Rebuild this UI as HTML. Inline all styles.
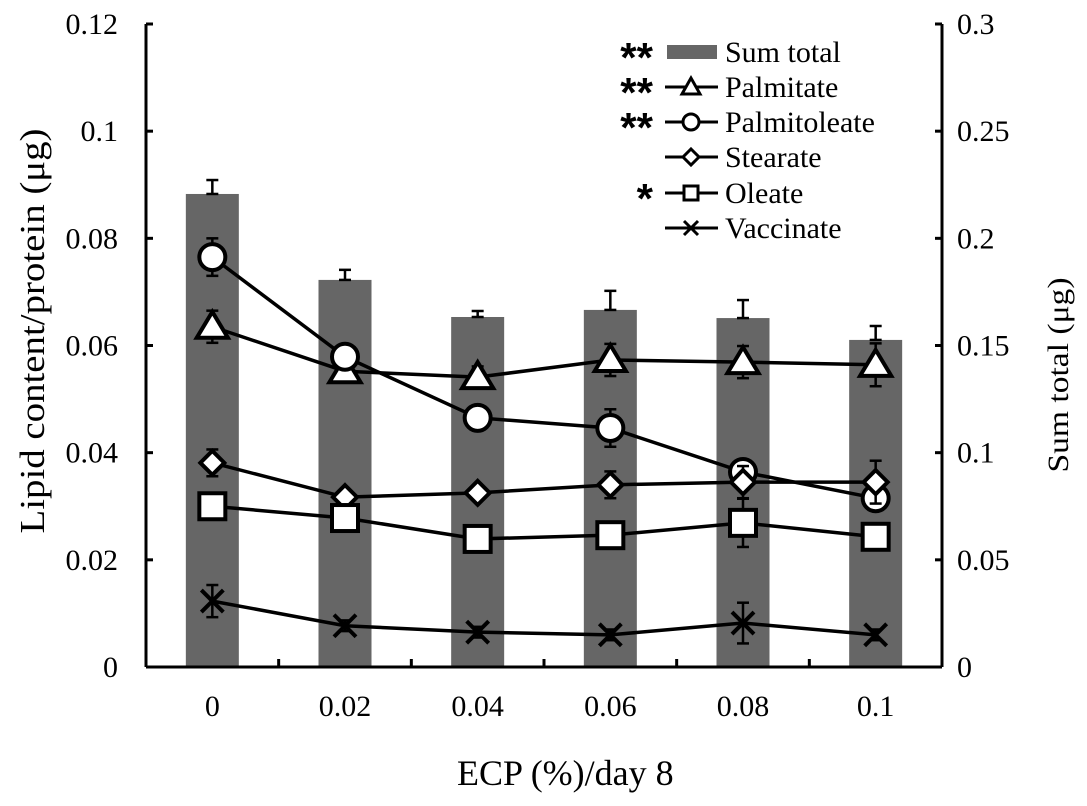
<!DOCTYPE html>
<html><head><meta charset="utf-8"><style>
body{margin:0;background:#fff;}
svg{display:block;font-family:"Liberation Serif",serif;}
</style></head><body>
<svg id="chart" width="1087" height="806" viewBox="0 0 1087 806">
<g id="bars"></g>
<g id="lines"></g>
<g id="axes"></g>
</svg>
<script>
const categories = ["0","0.02","0.04","0.06","0.08","0.1"];
const sumTotal = [0.2207,0.1806,0.1633,0.1666,0.1628,0.1526];
const sumTotalErr = [0.0065,0.0047,0.0028,0.0089,0.0084,0.0065];
const palmitate = [0.0635,0.0552,0.0541,0.0573,0.0569,0.0564];
const palmitateErr = [0.003,0.001,0.002,0.003,0.003,0.004];
const palmitoleate = [0.0765,0.0579,0.0465,0.0446,0.0364,0.0315];
const palmitoleateErr = [0.0035,0.001,0.001,0.0035,0.001,0.001];
const stearate = [0.0381,0.0317,0.0325,0.034,0.0345,0.0345];
const stearateErr = [0.0025,0.001,0.001,0.0025,0.003,0.004];
const oleate = [0.030,0.0278,0.0239,0.0246,0.0269,0.0243];
const oleateErr = [0.001,0.001,0.001,0.001,0.0045,0.001];
const vaccinate = [0.0123,0.0077,0.0065,0.006,0.0082,0.006];
const vaccinateErr = [0.003,0.001,0.001,0.001,0.0038,0.001];
const leftTicks = [0,0.02,0.04,0.06,0.08,0.1,0.12];
const leftTickLabels = ["0","0.02","0.04","0.06","0.08","0.1","0.12"];
const rightTicks = [0,0.05,0.1,0.15,0.2,0.25,0.3];
const rightTickLabels = ["0","0.05","0.1","0.15","0.2","0.25","0.3"];

const NS="http://www.w3.org/2000/svg";
const X0=146,X1=942,Y0=667,Y1=24;
const bw=(X1-X0)/categories.length;
const xPos=i=>X0+bw*(i+0.5);
const yL=v=>Y0-(v/0.12)*(Y0-Y1);
const yR=v=>Y0-(v/0.3)*(Y0-Y1);
function mk(tag,attrs,parent,txt){const e=document.createElementNS(NS,tag);for(const k in attrs)e.setAttribute(k,attrs[k]);if(txt!==undefined)e.textContent=txt;parent.appendChild(e);return e;}
const bars=document.getElementById('bars'),lines=document.getElementById('lines'),axes=document.getElementById('axes');

function errBar(g,x,yt,yb){
  mk('line',{x1:x,x2:x,y1:yt,y2:yb,stroke:'#000','stroke-width':2.5},g);
  mk('line',{x1:x-6,x2:x+6,y1:yt,y2:yt,stroke:'#000','stroke-width':2.5},g);
  mk('line',{x1:x-6,x2:x+6,y1:yb,y2:yb,stroke:'#000','stroke-width':2.5},g);
}
categories.forEach((c,i)=>{
  const r=mk('rect',{x:xPos(i)-26.5,y:yR(sumTotal[i]),width:53,height:Y0-yR(sumTotal[i]),fill:'#666'},bars);
  
  
  errBar(bars,xPos(i),yR(sumTotal[i]+sumTotalErr[i]),yR(sumTotal[i]));
});

function marker(g,type,x,y,s){
  const st={fill:'#fff',stroke:'#000','stroke-width':4};
  if(type==='tri') return mk('polygon',Object.assign({points:`${x},${y-s*1.15} ${x-s*1.2},${y+s*0.85} ${x+s*1.2},${y+s*0.85}`},st),g);
  if(type==='circ') return mk('circle',Object.assign({cx:x,cy:y,r:s},st),g);
  if(type==='dia') return mk('polygon',Object.assign({points:`${x},${y-s} ${x+s},${y} ${x},${y+s} ${x-s},${y}`},st),g);
  if(type==='sq') return mk('rect',Object.assign({x:x-s,y:y-s,width:2*s,height:2*s},st),g);
  if(type==='x'){const gg=mk('g',{},g);mk('line',{x1:x-s,y1:y-s,x2:x+s,y2:y+s,stroke:'#000','stroke-width':4},gg);mk('line',{x1:x-s,y1:y+s,x2:x+s,y2:y-s,stroke:'#000','stroke-width':4},gg);return gg;}
}
const series=[
 ['palmitate',palmitate,palmitateErr,'tri',13],
 ['palmitoleate',palmitoleate,palmitoleateErr,'circ',13],
 ['stearate',stearate,stearateErr,'dia',12],
 ['oleate',oleate,oleateErr,'sq',13],
 ['vaccinate',vaccinate,vaccinateErr,'x',11]];
series.forEach(([name,vals,errs,m,s])=>{
  const g=mk('g',{},lines);
  
  
  vals.forEach((v,i)=>errBar(g,xPos(i),yL(v+errs[i]),yL(v-errs[i])));
  mk('polyline',{points:vals.map((v,i)=>xPos(i)+','+yL(v)).join(' '),fill:'none',stroke:'#000','stroke-width':3.5},g);
  vals.forEach((v,i)=>{const p=marker(g,m,xPos(i),yL(v),s);
    
    });
});

mk('line',{x1:X0,x2:X0,y1:Y1,y2:Y0,stroke:'#000','stroke-width':3},axes);
mk('line',{x1:X1,x2:X1,y1:Y1,y2:Y0,stroke:'#000','stroke-width':3},axes);
mk('line',{x1:X0,x2:X1,y1:Y0,y2:Y0,stroke:'#000','stroke-width':3},axes);
leftTicks.forEach((t,i)=>{const y=yL(t);
  mk('line',{x1:X0,x2:X0+7,y1:y,y2:y,stroke:'#000','stroke-width':3},axes);
  const tx=mk('text',{x:118,y:y+10,'font-size':30,'text-anchor':'end'},axes,leftTickLabels[i]);
  
  });
rightTicks.forEach((t,i)=>{const y=yR(t);
  mk('line',{x1:X1-7,x2:X1,y1:y,y2:y,stroke:'#000','stroke-width':3},axes);
  const tx=mk('text',{x:957,y:y+10,'font-size':30},axes,rightTickLabels[i]);
  
  });
categories.forEach((c,i)=>{
  if(i>0) mk('line',{x1:X0+bw*i,x2:X0+bw*i,y1:Y0-8,y2:Y0,stroke:'#000','stroke-width':3},axes);
  const tx=mk('text',{x:xPos(i),y:716,'font-size':30,'text-anchor':'middle'},axes,c);
  
  });
</script>
<svg style="position:absolute;left:0;top:0" width="1087" height="806">
<g font-family="Liberation Serif, serif">
<text x="457" y="785" font-size="36">ECP (%)/day 8</text>
<text transform="translate(44,331) rotate(-90)" font-size="35" text-anchor="middle" textLength="405" lengthAdjust="spacingAndGlyphs">Lipid content/protein (μg)</text>
<text transform="translate(1068,375) rotate(-90)" font-size="30" text-anchor="middle" textLength="195" lengthAdjust="spacingAndGlyphs">Sum total (μg)</text>
<g font-size="30">
<g><text x="653" y="72" text-anchor="end" font-family="Liberation Sans, sans-serif" font-weight="bold" font-size="42">**</text><rect x="667" y="45" width="50" height="14" fill="#666"/><text x="725" y="62">Sum total</text></g>
<g><text x="653" y="107" text-anchor="end" font-family="Liberation Sans, sans-serif" font-weight="bold" font-size="42">**</text><line x1="665" x2="718" y1="87" y2="87" stroke="#000" stroke-width="3"/><polygon points="691,78 682,94 700,94" fill="#fff" stroke="#000" stroke-width="3"/><text x="725" y="97">Palmitate</text></g>
<g><text x="653" y="142" text-anchor="end" font-family="Liberation Sans, sans-serif" font-weight="bold" font-size="42">**</text><line x1="665" x2="718" y1="122" y2="122" stroke="#000" stroke-width="3"/><circle cx="691" cy="122" r="8" fill="#fff" stroke="#000" stroke-width="3"/><text x="725" y="132">Palmitoleate</text></g>
<g><line x1="665" x2="718" y1="157" y2="157" stroke="#000" stroke-width="3"/><polygon points="691,149 699,157 691,165 683,157" fill="#fff" stroke="#000" stroke-width="3"/><text x="725" y="167">Stearate</text></g>
<g><text x="653" y="213" text-anchor="end" font-family="Liberation Sans, sans-serif" font-weight="bold" font-size="42">*</text><line x1="665" x2="718" y1="193" y2="193" stroke="#000" stroke-width="3"/><rect x="684" y="186" width="14" height="14" fill="#fff" stroke="#000" stroke-width="3"/><text x="725" y="203">Oleate</text></g>
<g><line x1="665" x2="718" y1="228" y2="228" stroke="#000" stroke-width="3"/><line x1="684" y1="221" x2="698" y2="235" stroke="#000" stroke-width="3"/><line x1="684" y1="235" x2="698" y2="221" stroke="#000" stroke-width="3"/><text x="725" y="238">Vaccinate</text></g>
</g>
</g>
</svg>
</body></html>
